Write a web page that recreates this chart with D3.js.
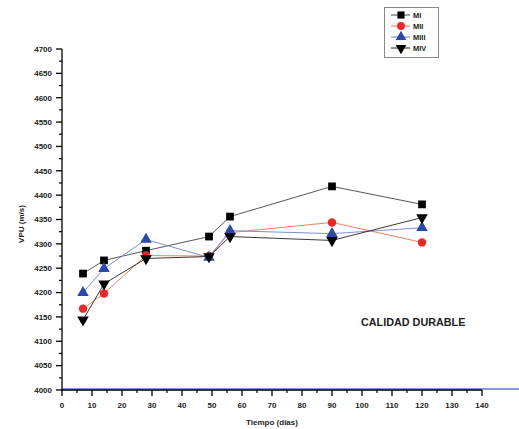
<!DOCTYPE html>
<html><head><meta charset="utf-8">
<script src="https://cdn.jsdelivr.net/npm/d3@7"></script>
<style>body{margin:0;background:#fff}svg{display:block}text{font-family:"Liberation Sans",Arial,sans-serif;font-weight:bold}</style>
</head><body>
<svg id="c" width="519" height="429"></svg>
<script>
const days = [7, 14, 28, 49, 56, 90, 120];
const MI   = [4239, 4266, 4286, 4315, 4356, 4418, 4381];
const MII  = [4167, 4198, 4276, 4275, 4323, 4344, 4303];
const MIII = [4200, 4249, 4309, 4272, 4327, 4321, 4333];
const MIV  = [4144, 4218, 4270, 4274, 4315, 4307, 4354];
const seriesNames = ["MI", "MII", "MIII", "MIV"];
const xTicks = d3.range(0, 141, 10);
const yTicks = d3.range(4000, 4701, 50);

const series = [
  {name: "MI", values: MI, line: "#444", fill: "#000", sym: d3.symbolSquare, size: 60, rot: 0},
  {name: "MII", values: MII, line: "#f07050", fill: "#e8282a", sym: d3.symbolCircle, size: 56, rot: 0},
  {name: "MIII", values: MIII, line: "#7080d0", fill: "#2c48a8", sym: d3.symbolTriangle, size: 58, rot: 0},
  {name: "MIV", values: MIV, line: "#222", fill: "#000", sym: d3.symbolTriangle, size: 58, rot: 180}
];

const svg = d3.select("#c");
const x = d3.scaleLinear().domain([0, 140]).range([62, 482]);
const y = d3.scaleLinear().domain([4000, 4700]).range([390, 49]);

// blue baseline
svg.append("line").attr("x1", 62).attr("x2", 519).attr("y1", 389).attr("y2", 389)
  .attr("stroke", "#5b7fc8").attr("stroke-width", 1.5);

// x axis
const xAxis = svg.append("g").attr("transform", "translate(0,390)");
xAxis.append("line").attr("x1", x(0)).attr("x2", x(140)).attr("stroke", "#000").attr("stroke-width", 1.3);
xAxis.selectAll(".minx").data(d3.range(5, 140, 10)).enter().append("line")
  .attr("x1", d => x(d)).attr("x2", d => x(d)).attr("y1", 0).attr("y2", 3).attr("stroke", "#000").attr("stroke-width", 1.2);
xAxis.selectAll(".majx").data(xTicks).enter().append("line")
  .attr("x1", d => x(d)).attr("x2", d => x(d)).attr("y1", 0).attr("y2", 6).attr("stroke", "#000").attr("stroke-width", 1.3);
xAxis.selectAll(".lx").data(xTicks).enter().append("text")
  .attr("x", d => x(d)).attr("y", 18).attr("text-anchor", "middle").attr("font-size", 8).attr("fill", "#222").text(d => d);
svg.append("text").attr("x", 272).attr("y", 425).attr("text-anchor", "middle").attr("font-size", 8).attr("fill", "#222").text("Tiempo (dias)");

// y axis
const yAxis = svg.append("g");
yAxis.append("line").attr("x1", 62).attr("x2", 62).attr("y1", y(4700)).attr("y2", y(4000)+1).attr("stroke", "#000").attr("stroke-width", 1.3);
yAxis.selectAll(".miny").data(d3.range(4025, 4700, 50)).enter().append("line")
  .attr("x1", 59).attr("x2", 62).attr("y1", d => y(d)).attr("y2", d => y(d)).attr("stroke", "#000").attr("stroke-width", 1.2);
yAxis.selectAll(".majy").data(yTicks).enter().append("line")
  .attr("x1", 56).attr("x2", 62).attr("y1", d => y(d)).attr("y2", d => y(d)).attr("stroke", "#000").attr("stroke-width", 1.3);
yAxis.selectAll(".ly").data(yTicks).enter().append("text")
  .attr("x", 52).attr("y", d => y(d) + 2.8).attr("text-anchor", "end").attr("font-size", 8).attr("fill", "#222").text(d => d);
svg.append("text").attr("transform", "translate(24,224) rotate(-90)").attr("text-anchor", "middle")
  .attr("font-size", 8).attr("fill", "#222").text("VPU (m/s)");

// series
const line = d3.line().x((d, i) => x(days[i])).y(d => y(d));
series.forEach(s => {
  svg.append("path").datum(s.values).attr("d", line).attr("fill", "none").attr("stroke", s.line).attr("stroke-width", 0.9);
});
series.forEach(s => {
  svg.selectAll(null).data(s.values).enter().append("path")
    .attr("d", d3.symbol().type(s.sym).size(s.size))
    .attr("transform", (d, i) => `translate(${x(days[i])},${y(d)}) rotate(${s.rot})`)
    .attr("fill", s.fill);
});

// legend
const lg = svg.append("g");
lg.append("rect").attr("x", 384.5).attr("y", 7.5).attr("width", 54).attr("height", 50)
  .attr("fill", "#fff").attr("stroke", "#888").attr("stroke-width", 1);
series.forEach((s, i) => {
  const ly = 15 + i * 11;
  lg.append("line").attr("x1", 391).attr("x2", 410).attr("y1", ly).attr("y2", ly).attr("stroke", s.line).attr("stroke-width", 1);
  lg.append("path").attr("d", d3.symbol().type(s.sym).size(s.size * 0.85))
    .attr("transform", `translate(401,${ly}) rotate(${s.rot})`).attr("fill", s.fill);
  lg.append("text").attr("x", 413).attr("y", ly + 2.6).attr("font-size", 7.5).attr("fill", "#222").text(seriesNames[i]);
});

svg.append("text").attr("x", 361).attr("y", 325.5).attr("font-size", 10.8).attr("fill", "#222").text("CALIDAD DURABLE");
</script>
</body></html>
